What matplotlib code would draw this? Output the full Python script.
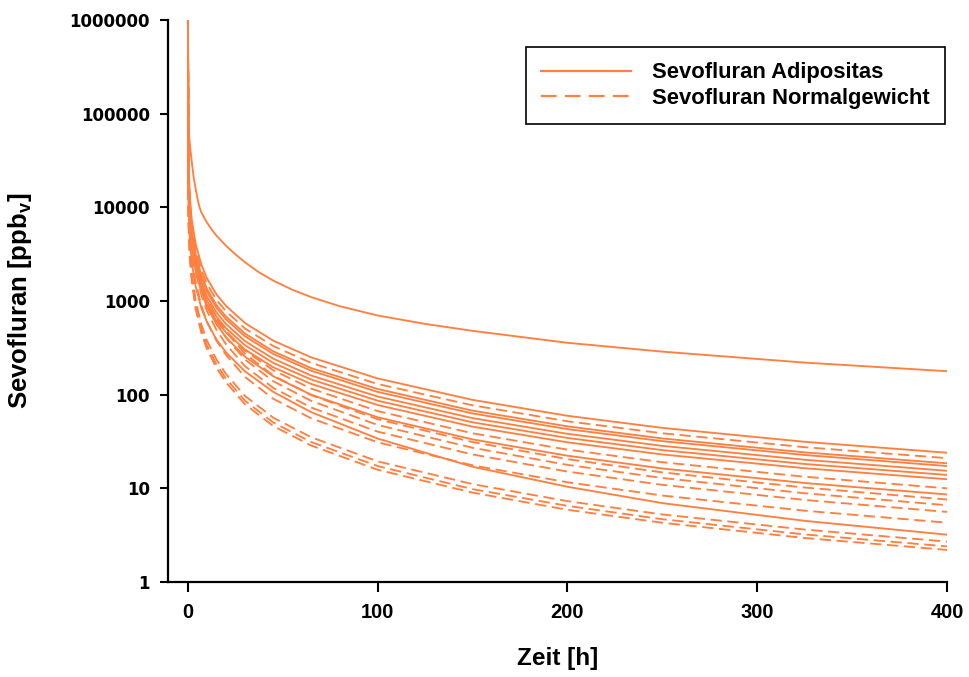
import matplotlib
matplotlib.use('Agg')
import matplotlib.pyplot as plt
from matplotlib.lines import Line2D

# ---------------- data ----------------
time_h = [0, 0.3, 1, 2, 4, 7, 10, 15, 20, 30, 45, 65, 100, 150, 200, 250, 325, 400]

# highest Adipositas curve, sampled more densely (sharp knee near the start)
top_time_h = [0, 0.3, 1, 1.5, 2, 3, 4, 5, 6, 7, 8.5, 10, 12.5, 15, 20, 25, 30, 37, 45,
              55, 65, 80, 100, 125, 150, 200, 250, 325, 400]
top_curve = [1000000, 70000, 48000, 38000, 31000, 21000, 16000, 12500, 10200, 8900, 7800,
             6900, 5800, 5000, 3900, 3150, 2600, 2050, 1650, 1320, 1100, 880, 700, 570,
             480, 358, 288, 220, 178]

# Sevofluran Adipositas (solid)
adipositas = [
    [1000000, 30000, 13000, 7440, 4130, 2470, 1750, 1180, 890, 583, 377, 250, 149, 88, 59.5, 44.2, 31.4, 24],
    [1000000, 23100, 10000, 5740, 3180, 1910, 1350, 907, 685, 450, 290, 192, 115, 67.5, 45.9, 34.1, 24.2, 18.5],
    [1000000, 21600, 9340, 5360, 2980, 1780, 1260, 848, 640, 420, 272, 180, 107, 63, 42.9, 31.9, 22.7, 17.3],
    [1000000, 19300, 8320, 4770, 2650, 1590, 1120, 755, 570, 374, 242, 160, 95.5, 56.2, 38.2, 28.4, 20.2, 15.4],
    [1000000, 17400, 7510, 4310, 2390, 1430, 1010, 681, 514, 338, 218, 145, 86.2, 50.7, 34.5, 25.6, 18.2, 13.9],
    [1000000, 15600, 6750, 3880, 2150, 1290, 913, 613, 463, 304, 196, 130, 77.5, 45.6, 31, 23.0, 16.4, 12.5],
    [1000000, 16800, 7210, 4150, 2200, 1260, 869, 565, 412, 255, 157, 99.8, 57.4, 33.3, 22.3, 16.3, 11.4, 8.6],
    [1000000, 10400, 4540, 2610, 1450, 853, 597, 390, 284, 178, 107, 65, 34, 17, 10.4, 6.95, 4.5, 3.2],
]

# Sevofluran Normalgewicht (dashed)
normalgewicht = [
    [1000000, 26000, 11300, 6500, 3600, 2160, 1530, 1030, 780, 510, 330, 218, 130, 77, 52, 38.7, 27.5, 21],
    [1000000, 19500, 8380, 4820, 2560, 1470, 1010, 657, 479, 296, 182, 116, 66.8, 38.7, 25.9, 19.0, 13.3, 10],
    [1000000, 22800, 9880, 5700, 2890, 1600, 1060, 669, 471, 274, 160, 98.8, 54.7, 31.2, 20.5, 14.8, 10.2, 7.6],
    [1000000, 19800, 8580, 4950, 2510, 1390, 924, 581, 409, 238, 139, 85.8, 47.5, 27.1, 17.8, 12.9, 8.86, 6.6],
    [1000000, 16800, 7280, 4200, 2130, 1180, 784, 493, 347, 202, 118, 72.8, 40.3, 23, 15.1, 10.9, 7.52, 5.6],
    [1000000, 12900, 5590, 3230, 1630, 903, 602, 378, 267, 155, 90.3, 55.9, 31, 17.6, 11.6, 8.38, 5.77, 4.3],
    [1000000, 8100, 3510, 2030, 1030, 567, 378, 238, 167, 97.2, 56.7, 35.1, 19.4, 11.1, 7.3, 5.26, 3.63, 2.7],
    [1000000, 7200, 3120, 1800, 912, 504, 336, 211, 149, 86.4, 50.4, 31.2, 17.3, 9.8, 6.5, 4.68, 3.22, 2.4],
    [1000000, 6600, 2860, 1650, 836, 462, 308, 194, 136, 79.2, 46.2, 28.6, 15.8, 9.0, 5.9, 4.29, 2.95, 2.2],
]

x_ticks = [0, 100, 200, 300, 400]
y_ticks = [1, 10, 100, 1000, 10000, 100000, 1000000]
y_tick_labels = ['1', '10', '100', '1000', '10000', '100000', '1000000']
legend_labels = ['Sevofluran Adipositas', 'Sevofluran Normalgewicht']
x_label = 'Zeit [h]'
y_label = r'Sevofluran [ppb$_\mathregular{v}$]'

# ---------------- styling ----------------
color = '#FF8040'
lw = 1.35

fig = plt.figure(figsize=(9.69, 6.77), dpi=100)
ax = fig.add_axes([168 / 969, 1 - 582 / 677, (947 - 168) / 969, (582 - 20) / 677])

ax.plot(top_time_h, top_curve, color=color, lw=lw, solid_joinstyle='round')
for y in adipositas:
    ax.plot(time_h, y, color=color, lw=lw, solid_joinstyle='round')
for y in normalgewicht:
    ax.plot(time_h, y, color=color, lw=lw, linestyle=(0, (6, 3)))

ax.set_yscale('log')
ax.set_xlim(-10.5, 400)
ax.set_ylim(1, 1000000)
ax.set_xticks(x_ticks)
ax.set_yticks(y_ticks)
ax.yaxis.set_minor_locator(matplotlib.ticker.NullLocator())
ax.set_yticklabels(y_tick_labels, fontfamily='DejaVu Sans', fontweight='bold', fontsize=12)
ax.set_xticklabels([str(v) for v in x_ticks], fontfamily='Liberation Sans',
                   fontweight='bold', fontsize=14.5)

for side in ('top', 'right'):
    ax.spines[side].set_visible(False)
for side in ('left', 'bottom'):
    ax.spines[side].set_linewidth(1.6)
    ax.spines[side].set_color('black')

ax.tick_params(axis='y', which='major', direction='out', length=6, width=1.5, pad=7)
ax.tick_params(axis='x', which='major', direction='out', length=7, width=1.5, pad=8)

ax.set_xlabel(x_label, fontfamily='Liberation Sans', fontweight='bold', fontsize=17.5)
ax.set_ylabel(y_label, fontfamily='Liberation Sans', fontweight='bold', fontsize=18.5)
ax.xaxis.set_label_coords(0.5, -0.115)
ax.yaxis.set_label_coords(-0.172, 0.5)

handles = [
    Line2D([], [], color=color, lw=1.6),
    Line2D([], [], color=color, lw=1.6, linestyle=(0, (7, 3.8))),
]
leg = ax.legend(handles, legend_labels, loc='upper right',
                bbox_to_anchor=(0.9975, 0.952), frameon=True, fancybox=False,
                edgecolor='black', framealpha=1, borderpad=0.7,
                handlelength=4.1, handletextpad=0.95, labelspacing=0.2,
                borderaxespad=0,
                prop={'family': 'Liberation Sans', 'weight': 'bold', 'size': 15.8})
leg.get_frame().set_linewidth(1.2)

fig.savefig('out.png', dpi=100)
